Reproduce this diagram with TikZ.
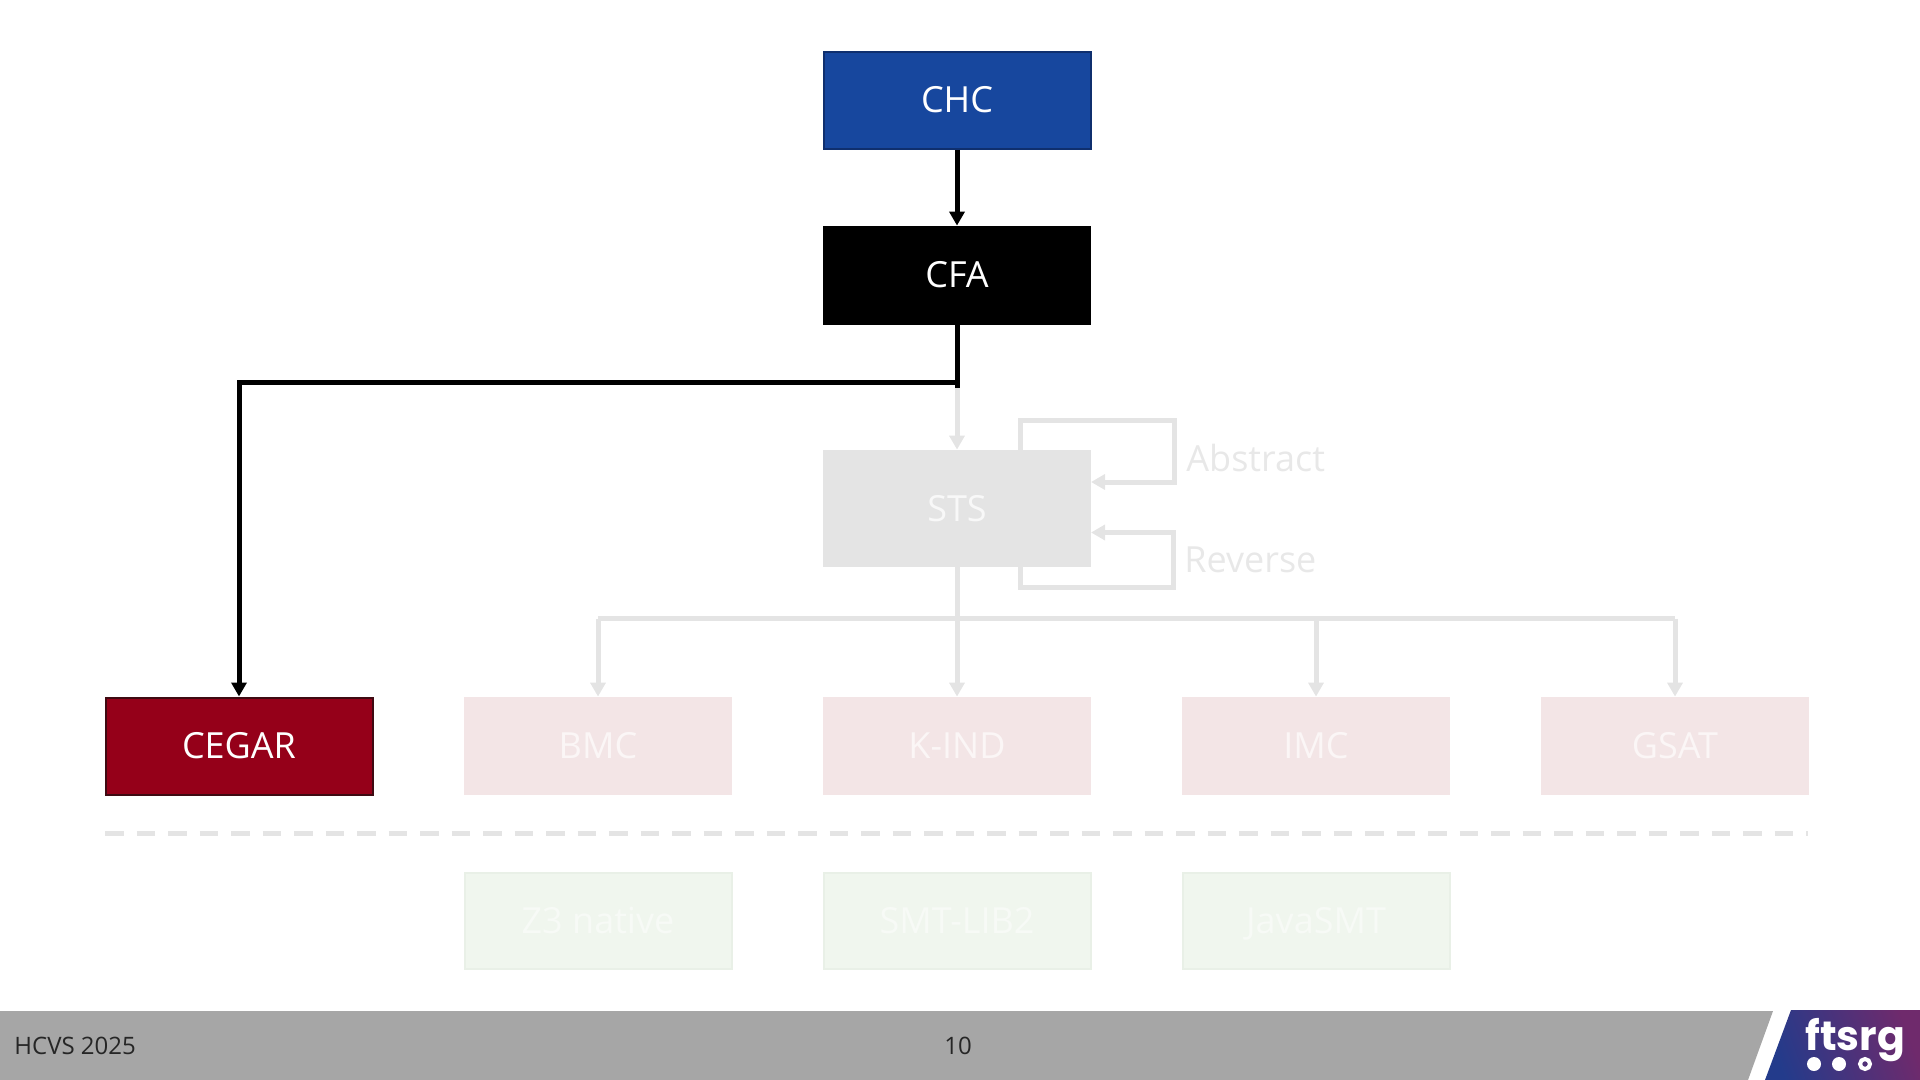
\documentclass[tikz,border=0pt]{standalone}
\usepackage{fontspec}
\setmainfont{Open Sans}
\newfontfamily\logofont{Poppins}[BoldFont={Poppins Bold}]
\usetikzlibrary{arrows.meta,calc}
\definecolor{fadeline}{HTML}{E4E4E4}
\definecolor{chcfill}{HTML}{17479E}
\definecolor{chcdraw}{HTML}{0F2F6E}
\definecolor{cegarfill}{HTML}{950019}
\definecolor{cegardraw}{HTML}{3F0A12}
\definecolor{algofill}{HTML}{F3E5E6}
\definecolor{algotext}{HTML}{FBF6F6}
\definecolor{solverfill}{HTML}{F0F6EE}
\definecolor{solverdraw}{HTML}{E9F0E7}
\definecolor{solvertext}{HTML}{F7FAF6}
\definecolor{footgray}{HTML}{A6A6A6}
\definecolor{footink}{HTML}{262626}
\definecolor{logoblue}{HTML}{233B8B}
\definecolor{logopurple}{HTML}{6F2A6C}
\tikzset{
  box/.style={rectangle,minimum width=134pt,minimum height=49pt,inner sep=0pt,text=white,text height=12.5pt,text depth=0pt,font=\fontsize{18pt}{21pt}\selectfont},
  chcbox/.style={box,fill=chcfill,draw=chcdraw,line width=1pt,minimum width=133.5pt,minimum height=48.5pt},
  cfabox/.style={box,fill=black,minimum height=49.5pt},
  stsbox/.style={box,fill=fadeline,minimum height=58.5pt,text=white!75!fadeline},
  mainalgo/.style={box,fill=cegarfill,draw=cegardraw,line width=1pt,minimum width=133.5pt,minimum height=48.5pt},
  algobox/.style={box,fill=algofill,text=algotext},
  solverbox/.style={box,fill=solverfill,draw=solverdraw,line width=1pt,text=solvertext,minimum width=133.5pt,minimum height=48pt},
  steplabel/.style={anchor=west,inner sep=0pt,text=fadeline!85!white,font=\fontsize{18pt}{21pt}\selectfont},
  footlabel/.style={inner sep=0pt,text=footink,font=\fontsize{12pt}{14pt}\selectfont},
  fadearrow/.style={draw=fadeline,line width=2.5pt,-{Triangle[width=7.5pt,length=7pt]}},
  fadewire/.style={draw=fadeline,line width=2.5pt},
  blackarrow/.style={draw=black,line width=2.5pt,-{Triangle[width=7.5pt,length=7pt]}},
  blackwire/.style={draw=black,line width=2.5pt},
}
\begin{document}
\begin{tikzpicture}[x=0.5pt,y=-0.5pt]
\useasboundingbox (0,0) rectangle (1920,1080);
% nodes
\node[chcbox] (chc) at (957,100.5) {CHC};
\node[cfabox] (cfa) at (957,275.5) {CFA};
\node[stsbox] (sts) at (957,508.5) {STS};
\node[mainalgo] (cegar) at (239,746) {CEGAR};
\node[algobox] (bmc) at (598,746) {BMC};
\node[algobox] (kind) at (957,746) {K-IND};
\node[algobox] (imc) at (1316,746) {IMC};
\node[algobox] (gsat) at (1675,746) {GSAT};
\node[solverbox] (z3) at (598,920.5) {Z3 native};
\node[solverbox] (smt) at (957,920.5) {SMT-LIB2};
\node[solverbox] (java) at (1316,920.5) {JavaSMT};
\node[steplabel] (abs) at (1186,458) {Abstract};
\node[steplabel] (rev) at (1184,559.5) {Reverse};
% coordinates
\coordinate (split) at (957,382.5);
\coordinate (splitend) at (957,388);
\coordinate (corner) at (239,382.5);
\coordinate (busl) at (598,618.5);
\coordinate (busr) at (1316,618.5);
\coordinate (busrr) at (1675,618.5);
\coordinate (absa) at (1020,450.6);
\coordinate (absb) at (1020,420);
\coordinate (absc) at (1174,420);
\coordinate (absd) at (1174,482);
\coordinate (absend) at (1091,482);
\coordinate (reva) at (1020,567);
\coordinate (revb) at (1020,587);
\coordinate (revc) at (1173,587);
\coordinate (revd) at (1173,532.5);
\coordinate (revend) at (1091,532.5);
\coordinate (dashl) at (105,833);
\coordinate (dashr) at (1808,833);
% faded connectors
\draw[fadearrow] (splitend) -- (sts.north);
\draw[fadearrow] (absa) -- (absb) -- (absc) -- (absd) -- (absend);
\draw[fadearrow] (reva) -- (revb) -- (revc) -- (revd) -- (revend);
\draw[fadearrow] (sts.south) -- (kind.north);
\draw[fadewire] (busl) -- (busrr);
\draw[fadearrow] (busl) -- (bmc.north);
\draw[fadearrow] (busr) -- (imc.north);
\draw[fadearrow] (busrr) -- (gsat.north);
\draw[draw=fadeline,line width=2.5pt,dash pattern=on 9.3pt off 6.45pt] (dashl) -- (dashr);
% active connectors
\draw[blackarrow] (chc.south) -- (cfa.north);
\draw[blackwire] (cfa.south) -- (splitend);
\draw[blackarrow] (split) -- (corner) -- (cegar.north);
% footer
\fill[footgray] (0,1011) -- (1773,1011) -- (1748,1080) -- (0,1080) -- cycle;
\path[shading=axis,left color=logoblue,right color=logopurple,shading angle=110] (1791,1010) -- (1920,1010) -- (1920,1080) -- (1765,1080) -- cycle;
\node[footlabel,anchor=west] (venue) at (14,1046) {HCVS 2025};
\node[footlabel] (page) at (958,1046) {10};
\node[anchor=base west,inner sep=0pt,text=white,font=\logofont\bfseries\fontsize{20.5pt}{24pt}\selectfont] (logo) at (1805,1050) {ftsrg};
\fill[white] (1814,1064) circle (7);
\fill[white] (1839,1064) circle (7);
\draw[white,line width=2pt] (1865,1064) circle (5);
\end{tikzpicture}
\end{document}
